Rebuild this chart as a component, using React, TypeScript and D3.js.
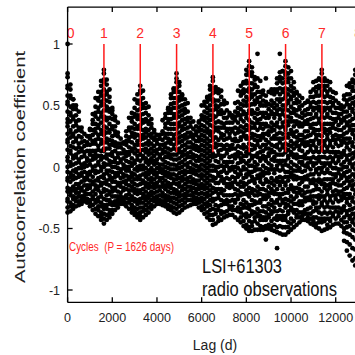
import * as d3 from "d3";

// LSI+61303 radio autocorrelation, lag binned in 125 d steps (13 bins per 1626 d cycle)
const period = 1626;
const binDays = 125;
const cycleLabels = ["0", "1", "2", "3", "4", "5", "6", "7", "8"];
const xTicks = [0, 2000, 4000, 6000, 8000, 10000, 12000];
const yTicks = [1, 0.5, 0, -0.5, -1];

// coefficient x100, one list per lag bin, bins start at each cycle peak
const cycle0 = [
  [100, 76, 73, 66, 64, 58, 53, 51, 45, 39, 36, 33, 27, 22, 20, 14, 8, 5, 0, -4, -9, -11, -17, -20, -26, -28, -33, -37],
  [67, 63, 58, 56, 49, 44, 42, 37, 30, 28, 24, 17, 13, 11, 4, 1, -5, -8, -12, -18, -21, -23, -29, -32, -36],
  [55, 55, 50, 47, 41, 39, 33, 27, 25, 20, 16, 9, 7, 2, -3, -7, -10, -16, -19, -24, -26, -31, -34],
  [50, 47, 42, 37, 34, 29, 23, 21, 15, 10, 8, 3, -2, -4, -9, -14, -18, -21, -25, -28, -32],
  [45, 38, 32, 30, 25, 19, 16, 12, 6, 4, -1, -6, -8, -14, -17, -21, -24, -28, -31],
  [32, 29, 24, 20, 15, 13, 8, 2, -1, -5, -7, -12, -17, -19, -24, -27, -30],
  [27, 21, 17, 12, 9, 3, 0, -4, -9, -11, -15, -20, -23, -25, -28],
  [25, 20, 18, 13, 7, 5, 1, -5, -8, -10, -15, -18, -22, -26, -29],
  [30, 31, 25, 23, 18, 13, 10, 5, 2, -4, -6, -11, -15, -17, -22, -27, -29, -32],
  [43, 38, 35, 30, 26, 21, 19, 13, 9, 6, 0, -3, -8, -12, -14, -20, -24, -26, -31, -35],
  [56, 49, 44, 41, 35, 31, 28, 22, 19, 13, 10, 7, 1, -3, -5, -11, -15, -18, -22, -27, -29, -34, -38],
  [61, 56, 54, 48, 45, 39, 34, 32, 26, 23, 17, 14, 9, 4, 2, -4, -9, -11, -16, -19, -25, -28, -32, -35, -40],
  [70, 66, 61, 58, 53, 50, 44, 41, 36, 30, 27, 22, 19, 13, 9, 6, 0, -3, -8, -13, -15, -21, -24, -29, -32, -37, -40, -43],
];
const cycle1 = [
  [79, 76, 71, 69, 63, 58, 55, 51, 46, 41, 39, 33, 29, 26, 20, 15, 13, 8, 3, 0, -6, -9, -13, -18, -20, -26, -31, -34, -38, -42, -46],
  [71, 67, 61, 59, 54, 49, 46, 40, 38, 32, 28, 23, 20, 15, 10, 7, 2, -3, -5, -11, -14, -19, -23, -27, -31, -34, -39, -43],
  [63, 57, 53, 47, 45, 40, 35, 30, 28, 22, 18, 15, 10, 5, 2, -3, -7, -10, -15, -20, -22, -27, -30, -35, -38, -41],
  [48, 46, 43, 39, 33, 31, 25, 21, 18, 12, 9, 4, 0, -4, -9, -12, -17, -20, -24, -29, -31, -35, -38],
  [41, 38, 33, 29, 26, 20, 17, 13, 7, 4, 0, -5, -8, -12, -17, -19, -24, -28, -31, -35],
  [36, 28, 25, 19, 16, 11, 8, 3, -1, -5, -7, -13, -15, -20, -24, -27, -30, -33],
  [23, 19, 16, 11, 6, 4, -2, -4, -9, -13, -16, -21, -24, -27, -30],
  [19, 20, 14, 11, 7, 2, -1, -6, -8, -12, -17, -19, -25, -27, -30],
  [29, 25, 21, 18, 12, 9, 5, 0, -3, -7, -11, -14, -18, -23, -25, -29, -32],
  [40, 32, 30, 24, 21, 16, 12, 10, 4, 0, -3, -8, -10, -15, -19, -22, -26, -29, -34],
  [44, 40, 37, 32, 28, 25, 20, 15, 13, 7, 3, 1, -5, -8, -12, -16, -19, -24, -27, -31, -34, -37],
  [55, 48, 43, 41, 35, 31, 27, 24, 18, 15, 11, 5, 3, -2, -6, -10, -14, -18, -21, -26, -28, -33, -36, -39],
  [59, 54, 52, 46, 42, 39, 33, 31, 26, 21, 18, 13, 9, 6, 0, -3, -8, -10, -15, -19, -22, -27, -30, -34, -38, -41],
];
const cycle2 = [
  [66, 62, 60, 54, 51, 47, 42, 39, 34, 31, 25, 22, 18, 13, 10, 5, 1, -2, -7, -10, -14, -19, -21, -26, -29, -33, -37, -40, -43],
  [62, 56, 51, 48, 43, 38, 36, 30, 26, 23, 18, 14, 9, 7, 1, -2, -6, -11, -13, -18, -22, -25, -29, -33, -36, -41],
  [52, 48, 44, 39, 37, 31, 28, 24, 19, 15, 12, 7, 4, -1, -5, -8, -13, -16, -20, -24, -27, -31, -35, -39],
  [49, 42, 37, 35, 30, 26, 21, 18, 13, 10, 5, 2, -3, -6, -10, -14, -17, -22, -25, -29, -33, -37],
  [39, 35, 32, 27, 24, 19, 15, 11, 7, 4, -1, -4, -9, -12, -16, -20, -23, -27, -31, -34],
  [28, 30, 24, 22, 17, 13, 9, 5, 2, -3, -6, -10, -14, -17, -21, -25, -28, -32],
  [26, 22, 19, 14, 11, 6, 3, -1, -5, -8, -13, -16, -20, -24, -27, -30],
  [26, 23, 18, 15, 10, 8, 2, -1, -4, -9, -11, -16, -19, -23, -27, -30],
  [38, 29, 27, 22, 18, 14, 11, 6, 2, -2, -5, -9, -13, -16, -21, -24, -28, -31],
  [43, 40, 35, 32, 27, 24, 19, 16, 12, 8, 4, 0, -4, -7, -11, -15, -18, -23, -26, -29, -32],
  [48, 47, 44, 39, 36, 31, 27, 23, 20, 15, 11, 8, 3, -1, -5, -8, -13, -16, -20, -24, -27, -31, -34],
  [59, 56, 51, 47, 44, 39, 35, 31, 27, 22, 19, 14, 10, 7, 2, -2, -6, -9, -14, -17, -21, -25, -28, -32, -35],
  [64, 63, 61, 56, 52, 48, 43, 40, 35, 31, 26, 23, 18, 15, 10, 6, 2, -2, -6, -10, -13, -18, -21, -25, -29, -33, -37],
];
const cycle3 = [
  [76, 72, 69, 64, 61, 56, 52, 48, 43, 40, 35, 31, 27, 22, 19, 14, 10, 6, 1, -2, -7, -10, -14, -19, -22, -26, -30, -34, -38],
  [69, 66, 61, 57, 54, 49, 45, 41, 36, 33, 28, 24, 20, 15, 12, 7, 3, -1, -5, -9, -13, -16, -21, -24, -28, -32, -37],
  [59, 58, 55, 50, 46, 42, 38, 33, 30, 25, 21, 17, 12, 9, 4, 0, -4, -8, -11, -16, -19, -23, -27, -31, -35],
  [55, 51, 47, 44, 39, 35, 31, 26, 23, 18, 14, 10, 6, 2, -3, -6, -10, -14, -18, -22, -25, -29, -33],
  [52, 45, 40, 37, 32, 28, 24, 20, 16, 11, 8, 3, 0, -4, -9, -12, -16, -20, -23, -27, -32],
  [40, 36, 33, 28, 25, 20, 16, 12, 8, 4, -1, -4, -8, -12, -16, -19, -23, -27, -31],
  [37, 31, 26, 23, 18, 15, 10, 7, 2, -2, -5, -10, -13, -17, -21, -24, -27, -30],
  [33, 29, 26, 21, 17, 14, 9, 5, 1, -3, -6, -11, -14, -18, -21, -25, -28, -30],
  [36, 37, 32, 29, 24, 21, 16, 13, 8, 5, 0, -3, -7, -11, -15, -18, -22, -26, -29, -33],
  [50, 42, 39, 34, 30, 26, 22, 18, 14, 10, 6, 2, -2, -6, -9, -14, -17, -21, -25, -28, -32, -35],
  [53, 50, 45, 41, 38, 33, 29, 25, 21, 17, 13, 9, 5, 1, -3, -7, -11, -15, -18, -22, -26, -30, -34, -38],
  [57, 56, 53, 48, 44, 40, 36, 31, 28, 23, 19, 15, 11, 7, 3, -1, -5, -9, -13, -17, -21, -24, -29, -32, -37, -41],
  [66, 63, 58, 55, 50, 46, 42, 38, 34, 29, 26, 21, 17, 13, 9, 5, 1, -3, -7, -11, -15, -19, -23, -27, -31, -35, -39, -43],
];
const cycle4 = [
  [73, 70, 64, 60, 55, 53, 46, 42, 39, 33, 28, 24, 22, 16, 11, 8, 1, -3, -8, -11, -17, -21, -26, -28, -34, -39, -43, -47],
  [65, 63, 61, 54, 50, 47, 41, 36, 32, 30, 24, 19, 16, 9, 5, 0, -3, -9, -13, -18, -20, -26, -31, -35, -38, -46],
  [63, 60, 54, 49, 45, 43, 37, 32, 29, 22, 18, 13, 10, 4, 0, -5, -7, -13, -18, -22, -25, -32, -35, -41, -44],
  [62, 57, 51, 46, 43, 36, 32, 27, 24, 18, 14, 9, 7, 1, -4, -8, -11, -18, -21, -27, -31, -36, -38, -43],
  [54, 51, 44, 40, 35, 32, 26, 22, 17, 15, 9, 4, 0, -3, -10, -13, -19, -23, -28, -30, -37, -41],
  [52, 46, 40, 36, 31, 29, 23, 18, 14, 11, 4, 1, -5, -9, -14, -16, -23, -27, -30, -36, -40],
  [44, 42, 36, 31, 27, 24, 17, 14, 8, 4, -1, -3, -10, -14, -17, -23, -28, -32, -34, -39],
  [42, 40, 36, 31, 29, 22, 18, 15, 9, 4, 0, -2, -8, -13, -16, -23, -27, -32, -35, -39],
  [52, 45, 41, 38, 32, 27, 23, 21, 15, 10, 7, 0, -4, -9, -12, -18, -22, -27, -29, -35, -41],
  [62, 53, 48, 44, 42, 36, 31, 28, 21, 17, 12, 9, 3, -1, -6, -8, -14, -19, -23, -26, -33, -36, -43],
  [66, 61, 58, 51, 47, 42, 39, 33, 29, 24, 22, 16, 11, 7, 4, -3, -6, -12, -16, -21, -23, -30, -34, -37, -41, -45],
  [69, 68, 63, 60, 54, 50, 45, 43, 37, 32, 28, 25, 18, 15, 9, 5, 0, -2, -9, -13, -16, -22, -27, -31, -33, -39, -44, -48],
  [79, 75, 70, 68, 62, 57, 53, 50, 43, 40, 34, 30, 25, 23, 16, 12, 9, 3, -2, -6, -8, -14, -19, -22, -29, -33, -38, -41, -47, -50],
];
const cycle5 = [
  [86, 82, 77, 75, 68, 64, 61, 55, 50, 46, 44, 38, 33, 30, 23, 19, 14, 11, 5, 1, -4, -6, -12, -17, -21, -24, -31, -34, -40, -44, -49, -52],
  [81, 77, 74, 68, 63, 59, 57, 51, 46, 43, 36, 32, 27, 24, 18, 14, 9, 7, 1, -4, -8, -11, -18, -21, -27, -31, -36, -38, -45, -48, -52],
  [73, 71, 67, 65, 59, 54, 51, 44, 40, 35, 32, 26, 22, 17, 15, 9, 4, 0, -3, -10, -13, -19, -23, -28, -30, -37, -41, -44, -51],
  [92, 72, 65, 61, 56, 53, 47, 43, 38, 36, 30, 25, 21, 18, 11, 8, 2, -2, -7, -9, -16, -20, -23, -29, -34, -38, -40, -46, -51],
  [70, 61, 57, 52, 50, 44, 39, 35, 32, 25, 22, 16, 12, 7, 5, -2, -6, -9, -12, -18, -22, -27, -29, -36, -40, -43, -48, -51],
  [62, 59, 54, 50, 44, 41, 35, 31, 27, 24, 18, 13, 9, 7, 1, -4, -7, -14, -18, -23, -26, -32, -36, -41, -43, -49, -51],
  [72, 58, 53, 50, 44, 40, 35, 33, 27, 22, 18, 15, 8, 5, -1, -5, -10, -12, -19, -23, -26, -32, -37, -41, -43, -48, -50, -59],
  [61, 51, 47, 42, 40, 33, 29, 26, 20, 15, 11, 9, 3, -2, -5, -12, -16, -21, -24, -30, -34, -39, -41, -47, -50],
  [63, 60, 54, 50, 45, 43, 36, 32, 29, 23, 18, 14, 12, 6, 1, -2, -9, -13, -18, -21, -27, -31, -36, -38, -44, -48, -51],
  [63, 62, 59, 52, 48, 43, 40, 34, 30, 25, 23, 17, 12, 8, 5, -2, -5, -11, -15, -20, -22, -29, -33, -36, -42, -47, -52],
  [72, 68, 63, 61, 55, 50, 46, 43, 36, 33, 27, 23, 18, 16, 10, 5, 1, -2, -9, -12, -18, -22, -27, -29, -36, -40, -43, -49, -53, -66],
  [92, 77, 73, 70, 64, 59, 55, 53, 47, 42, 39, 32, 28, 23, 20, 14, 10, 5, 3, -3, -8, -12, -15, -22, -25, -31, -35, -40, -42, -48, -54],
  [78, 78, 72, 68, 63, 61, 55, 50, 46, 43, 36, 33, 27, 23, 18, 16, 10, 5, 1, -2, -9, -12, -18, -22, -27, -29, -36, -40, -43, -49, -55],
];
const cycle6 = [
  [86, 82, 77, 75, 69, 64, 60, 57, 50, 47, 41, 37, 32, 30, 24, 19, 15, 12, 5, 2, -4, -8, -13, -15, -21, -26, -30, -33, -40, -43, -49, -55],
  [81, 76, 72, 69, 63, 59, 54, 52, 46, 41, 37, 34, 27, 24, 18, 14, 9, 7, 1, -4, -8, -11, -18, -21, -27, -31, -36, -38, -45, -49, -53],
  [78, 72, 66, 62, 57, 55, 49, 44, 40, 37, 30, 27, 21, 17, 12, 10, 4, -1, -5, -8, -15, -18, -24, -28, -33, -35, -42, -46, -51],
  [69, 64, 60, 58, 52, 47, 44, 37, 33, 28, 25, 19, 15, 10, 8, 2, -3, -7, -10, -17, -20, -26, -30, -35, -37, -44, -49],
  [61, 60, 55, 52, 46, 42, 37, 35, 29, 24, 20, 17, 10, 7, 1, -3, -8, -10, -17, -21, -24, -30, -35, -39, -41, -47],
  [58, 53, 49, 47, 41, 36, 33, 26, 22, 17, 14, 8, 4, -1, -3, -9, -14, -18, -21, -28, -31, -37, -41, -45],
  [56, 50, 44, 40, 35, 33, 26, 22, 19, 13, 8, 4, 2, -4, -9, -12, -19, -23, -28, -31, -37, -40, -43],
  [52, 46, 42, 37, 35, 29, 24, 20, 17, 10, 7, 1, -3, -8, -10, -16, -21, -25, -28, -35, -38, -43],
  [53, 54, 47, 43, 38, 35, 29, 25, 20, 18, 12, 7, 3, 0, -7, -10, -16, -20, -25, -27, -34, -38, -41, -44],
  [61, 57, 52, 49, 43, 39, 34, 32, 26, 21, 17, 14, 7, 4, -2, -6, -11, -13, -20, -24, -27, -33, -38, -42, -46],
  [69, 63, 57, 53, 48, 46, 40, 35, 31, 28, 21, 18, 12, 8, 3, 1, -6, -10, -13, -19, -24, -28, -30, -36, -41, -44, -47],
  [70, 65, 61, 58, 52, 48, 43, 41, 35, 30, 26, 23, 16, 13, 7, 3, -2, -4, -11, -15, -18, -24, -29, -33, -35, -41, -46, -49],
  [72, 71, 66, 64, 58, 53, 49, 46, 39, 36, 30, 26, 21, 19, 12, 8, 5, -1, -6, -10, -12, -18, -23, -26, -33, -37, -42, -45, -50],
];
const cycle7 = [
  [79, 76, 70, 66, 61, 59, 53, 48, 44, 41, 34, 31, 25, 21, 16, 14, 8, 3, -1, -4, -11, -14, -20, -24, -29, -31, -38, -42, -45, -52],
  [72, 70, 66, 63, 57, 53, 48, 46, 40, 35, 31, 28, 21, 18, 12, 8, 3, 1, -5, -10, -14, -17, -24, -27, -33, -37, -42, -44, -51],
  [70, 66, 61, 58, 52, 48, 43, 41, 35, 30, 26, 23, 16, 13, 7, 3, -2, -4, -10, -15, -19, -22, -29, -32, -38, -42, -47, -50],
  [69, 63, 57, 53, 48, 46, 40, 35, 31, 28, 21, 18, 12, 8, 3, 1, -5, -10, -14, -17, -24, -27, -33, -37, -42, -44, -49],
  [61, 56, 52, 50, 44, 39, 35, 32, 25, 22, 16, 12, 7, 5, -1, -6, -10, -13, -20, -23, -29, -33, -38, -40, -47],
  [60, 54, 48, 44, 39, 37, 31, 26, 22, 19, 12, 9, 3, -1, -6, -8, -14, -19, -23, -26, -33, -36, -42, -46],
  [52, 48, 43, 40, 34, 30, 25, 23, 17, 12, 8, 5, -2, -5, -11, -15, -20, -22, -28, -33, -37, -40, -46],
  [50, 47, 43, 38, 36, 30, 25, 21, 18, 11, 8, 2, -2, -7, -9, -15, -20, -24, -27, -34, -37, -43, -48],
  [58, 55, 49, 45, 40, 38, 32, 27, 23, 20, 13, 10, 4, 0, -5, -7, -13, -18, -22, -25, -32, -35, -41, -45, -50, -53, -60],
  [66, 59, 54, 51, 45, 41, 36, 34, 28, 23, 19, 16, 9, 6, 0, -4, -9, -11, -17, -22, -26, -29, -36, -39, -45, -49, -54, -61, -68],
  [68, 65, 59, 55, 50, 48, 42, 37, 33, 30, 23, 20, 14, 10, 5, 3, -3, -8, -12, -15, -22, -25, -31, -35, -40, -42, -48, -55, -63, -72],
  [71, 69, 65, 62, 56, 52, 47, 45, 39, 34, 30, 27, 20, 17, 11, 7, 2, 0, -6, -11, -15, -18, -25, -28, -34, -38, -43, -45, -51, -57, -66, -76],
  [79, 75, 70, 68, 62, 57, 53, 50, 43, 40, 34, 30, 25, 23, 16, 12, 9, 3, -2, -6, -8, -14, -19, -22, -29, -33, -38, -41, -47, -52, -59, -67, -74, -80],
];
const cycle8 = [
  [84, 81, 75, 71, 66, 64, 58, 53, 49, 46, 39, 36, 30, 26, 21, 19, 12, 8, 5, -1, -6, -10, -12, -18, -23, -26, -33, -37, -42, -47, -53, -60, -67, -73, -79],
];
const cycles = [cycle0, cycle1, cycle2, cycle3, cycle4, cycle5, cycle6, cycle7, cycle8];

const W = 355;
const H = 355;
const font = "'Liberation Sans', Arial, Helvetica, sans-serif";

export default function App() {
  const x = d3.scaleLinear().domain([0, 14000]).range([67.6, 380.4]);
  const y = d3.scaleLinear().domain([-1.1, 1.3]).range([302.3, 7.1]);

  const points = cycles.flatMap((bins, k) =>
    bins.flatMap((vals, j) =>
      vals.map((v) => ({ lag: (k * 13 + j) * binDays, r: v / 100 }))
    )
  );

  const left = x(0);
  const bottom = y(-1.1);
  const top = y(1.3);

  return (
    <svg
      width={W}
      height={H}
      style={{ position: "absolute", left: 0, top: 0, background: "#fff" }}
      fontFamily={font}
    >
      {/* scatter */}
      <g fill="#000">
        {points.map((p, i) => (
          <circle key={i} cx={x(p.lag)} cy={y(p.r)} r={2.4} />
        ))}
      </g>

      {/* cycle markers */}
      {cycleLabels.map((c, i) => (
        <g key={"c" + c}>
          {i > 0 && (
            <line
              x1={x(i * period)}
              x2={x(i * period)}
              y1={y(1)}
              y2={y(0.12)}
              stroke="#ff1a1a"
              strokeWidth={1.5}
            />
          )}
          <text
            x={i === 0 ? left + 3 : x(i * period)}
            y={38}
            textAnchor="middle"
            fontSize={14}
            fill="#ff2a2a"
          >
            {c}
          </text>
        </g>
      ))}

      {/* frame */}
      <g stroke="#000" strokeWidth={1.3} fill="none">
        <line x1={left} x2={W} y1={top} y2={top} />
        <line x1={left} x2={W} y1={bottom} y2={bottom} />
        <line x1={left} x2={left} y1={top} y2={bottom} />
        {xTicks.map((t) => (
          <g key={"xt" + t}>
            <line x1={x(t)} x2={x(t)} y1={bottom} y2={bottom - 5} />
            <line x1={x(t)} x2={x(t)} y1={top} y2={top + 5} />
          </g>
        ))}
        {yTicks.map((t) => (
          <line key={"yt" + t} x1={left} x2={left + 5} y1={y(t)} y2={y(t)} />
        ))}
      </g>

      {/* tick labels */}
      <g fontSize={12.5} fill="#222">
        {xTicks.map((t) => (
          <text key={"xl" + t} x={x(t)} y={322} textAnchor="middle">
            {t}
          </text>
        ))}
        {yTicks.map((t) => (
          <text key={"yl" + t} x={60} y={y(t) + 4.5} textAnchor="end">
            {t}
          </text>
        ))}
      </g>

      {/* axis titles */}
      <text x={215} y={350} textAnchor="middle" fontSize={14} fill="#222">
        Lag (d)
      </text>
      <text
        transform="translate(25,167) rotate(-90)"
        textAnchor="middle"
        fontSize={14}
        fill="#222"
        textLength={232}
        lengthAdjust="spacingAndGlyphs"
      >
        Autocorrelation coefficient
      </text>

      {/* annotations */}
      <text
        x={69}
        y={251}
        fontSize={12.5}
        fill="#ff2a2a"
        textLength={105}
        lengthAdjust="spacingAndGlyphs"
        style={{ whiteSpace: "pre" }}
      >
        {"Cycles  (P = 1626 days)"}
      </text>
      <text x={202} y={273} fontSize={21} fill="#111" textLength={80} lengthAdjust="spacingAndGlyphs">
        LSI+61303
      </text>
      <text x={202} y={296} fontSize={20} fill="#111" textLength={135} lengthAdjust="spacingAndGlyphs">
        radio observations
      </text>
    </svg>
  );
}
